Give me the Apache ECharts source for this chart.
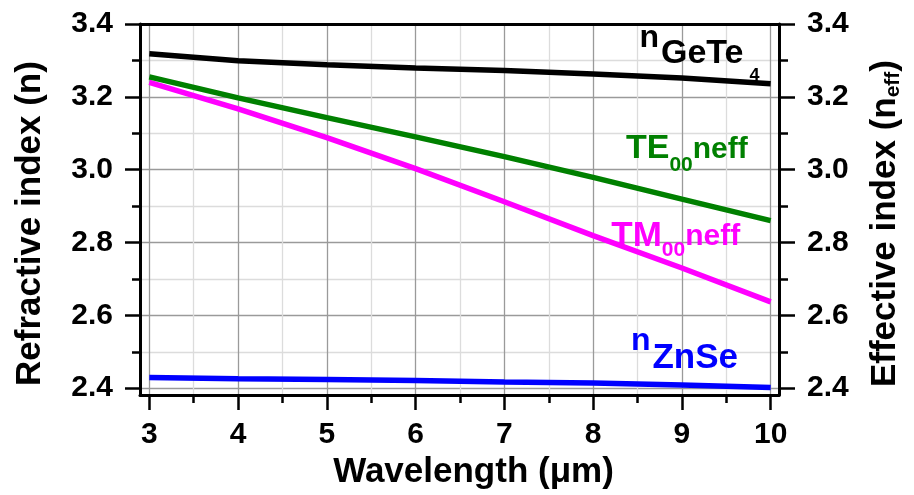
<!DOCTYPE html>
<html>
<head>
<meta charset="utf-8">
<script src="https://cdn.jsdelivr.net/npm/echarts@6/dist/echarts.min.js"></script>
<style>
  html, body { margin: 0; padding: 0; background: #fff; }
  #chart { width: 914px; height: 495px; }
</style>
</head>
<body>
<div id="chart"></div>
<script>
// Wavelength samples (µm)
const wavelength = [3, 4, 5, 6, 7, 8, 9, 10];
// Bulk refractive indices
const nGeTe4 = [3.318, 3.299, 3.288, 3.279, 3.272, 3.263, 3.252, 3.236];
const nZnSe  = [2.429, 2.426, 2.424, 2.421, 2.417, 2.414, 2.409, 2.402];
// Effective indices of the fundamental modes
const te00neff = [3.255, 3.197, 3.143, 3.090, 3.036, 2.979, 2.919, 2.860];
const tm00neff = [3.240, 3.167, 3.088, 3.003, 2.912, 2.819, 2.730, 2.637];

// Axis ticks
const xMajorTicks = [3, 4, 5, 6, 7, 8, 9, 10];
const xMinorTicks = [3.5, 4.5, 5.5, 6.5, 7.5, 8.5, 9.5];
const yMajorTicks = [2.4, 2.6, 2.8, 3.0, 3.2, 3.4];
const yMinorTicks = [2.5, 2.7, 2.9, 3.1, 3.3];

// Curve annotations: [x, y] anchor in data units
const labelGeTe = [8.522, 3.3623];
const labelTE   = [8.370, 3.0585];
const labelTM   = [8.205, 2.8180];
const labelZnSe = [8.426, 2.5290];

const FONT = 'Liberation Sans, Arial, sans-serif';
const X_MIN = 2.895, X_MAX = 10.094;
const Y_MIN = 2.381, Y_MAX = 3.4;

const pairs = ys => wavelength.map((x, i) => [x, ys[i]]);

function tok(size, color, padTop, padLeft) {
  return {
    fontFamily: FONT, fontWeight: 'bold', fontSize: size, color: color,
    padding: [padTop || 0, 0, 0, padLeft || 0]
  };
}

function annotation(coord, text, rich) {
  return {
    symbol: 'circle', symbolSize: 0, silent: true,
    data: [{ coord: coord }],
    label: {
      show: true, position: 'inside', align: 'left', verticalAlign: 'middle',
      formatter: text, rich: rich
    }
  };
}

const axisLineStyle = { color: '#000', width: 3 };
const tickStyle = { color: '#000', width: 2.5 };
const majorGrid = { color: '#9a9a9a', width: 1.3 };
const minorGrid = { color: '#dcdcdc', width: 1.3 };
const tickLabel = { color: '#000', fontFamily: FONT, fontWeight: 'bold', fontSize: 30 };

const chart = echarts.init(document.getElementById('chart'), null, { renderer: 'canvas' });

chart.setOption({
  backgroundColor: '#fff',
  animation: false,
  grid: { left: 140, right: 135, top: 24, bottom: 98, containLabel: false },
  xAxis: [
    {
      type: 'value', min: X_MIN, max: X_MAX, position: 'bottom',
      axisLine: { show: true, lineStyle: axisLineStyle },
      axisTick: { show: true, inside: false, length: 15, lineStyle: tickStyle, customValues: xMajorTicks },
      axisLabel: Object.assign({ show: true, margin: 25, customValues: xMajorTicks, formatter: v => String(Math.round(v)) }, tickLabel),
      splitLine: { show: true, lineStyle: majorGrid },
      name: 'Wavelength (\u03bcm)', nameLocation: 'middle', nameGap: 53,
      nameTextStyle: { color: '#000', fontFamily: FONT, fontWeight: 'bold', fontSize: 35, padding: [0, 0, 0, 28] }
    },
    {
      type: 'value', min: X_MIN, max: X_MAX, position: 'bottom',
      axisLine: { show: false },
      axisTick: { show: true, inside: false, length: 8, lineStyle: tickStyle, customValues: xMinorTicks },
      axisLabel: { show: false },
      splitLine: { show: true, lineStyle: minorGrid }
    },
    {
      type: 'value', min: X_MIN, max: X_MAX, position: 'top',
      axisLine: { show: true, lineStyle: axisLineStyle },
      axisTick: { show: false }, axisLabel: { show: false }, splitLine: { show: false }
    }
  ],
  yAxis: [
    {
      type: 'value', min: Y_MIN, max: Y_MAX, position: 'left',
      axisLine: { show: true, lineStyle: axisLineStyle },
      axisTick: { show: true, inside: false, length: 15, lineStyle: tickStyle, customValues: yMajorTicks },
      axisLabel: Object.assign({ show: true, margin: 27, customValues: yMajorTicks, formatter: v => v.toFixed(1) }, tickLabel),
      splitLine: { show: true, lineStyle: majorGrid },
      name: 'Refractive index (n)', nameLocation: 'middle', nameRotate: 90, nameGap: 92,
      nameTextStyle: { color: '#000', fontFamily: FONT, fontWeight: 'bold', fontSize: 35, padding: [0, 28, 0, 0] }
    },
    {
      type: 'value', min: Y_MIN, max: Y_MAX, position: 'left',
      axisLine: { show: false },
      axisTick: { show: true, inside: false, length: 8, lineStyle: tickStyle, customValues: yMinorTicks },
      axisLabel: { show: false },
      splitLine: { show: true, lineStyle: minorGrid }
    },
    {
      type: 'value', min: Y_MIN, max: Y_MAX, position: 'right',
      axisLine: { show: true, lineStyle: axisLineStyle },
      axisTick: { show: true, inside: false, length: 16, lineStyle: tickStyle, customValues: yMajorTicks },
      axisLabel: Object.assign({ show: true, margin: 28, customValues: yMajorTicks, formatter: v => v.toFixed(1) }, tickLabel),
      splitLine: { show: false },
      name: '{a|Effective index (n}{s|eff}{a|)}', nameLocation: 'middle', nameRotate: 90, nameGap: 88,
      nameTextStyle: {
        color: '#000', fontFamily: FONT, fontWeight: 'bold', fontSize: 35, padding: [0, 28, 0, 0],
        rich: {
          a: tok(35, '#000', 0),
          s: tok(21, '#000', 16)
        }
      }
    },
    {
      type: 'value', min: Y_MIN, max: Y_MAX, position: 'right',
      axisLine: { show: false },
      axisTick: { show: true, inside: false, length: 9, lineStyle: tickStyle, customValues: yMinorTicks },
      axisLabel: { show: false },
      splitLine: { show: false }
    }
  ],
  series: [
    {
      name: 'nGeTe4', type: 'line', xAxisIndex: 0, yAxisIndex: 0,
      data: pairs(nGeTe4), symbol: 'none', lineStyle: { color: '#000000', width: 5.5 },
      markPoint: annotation(labelGeTe, '{n|n}{g|GeTe}{d|4}', {
        n: tok(32, '#000', 0), g: tok(34, '#000', 32, 2), d: tok(18, '#000', 77, 6)
      })
    },
    {
      name: 'TM00neff', type: 'line', xAxisIndex: 0, yAxisIndex: 0,
      data: pairs(tm00neff), symbol: 'none', lineStyle: { color: '#ff00ff', width: 5.5 },
      markPoint: annotation(labelTM, '{m|TM}{s|00}{e|neff}', {
        m: tok(35, '#ff00ff', 0), s: tok(21, '#ff00ff', 29), e: tok(30, '#ff00ff', 2)
      })
    },
    {
      name: 'TE00neff', type: 'line', xAxisIndex: 0, yAxisIndex: 0,
      data: pairs(te00neff), symbol: 'none', lineStyle: { color: '#008000', width: 5.5 },
      markPoint: annotation(labelTE, '{m|TE}{s|00}{e|neff}', {
        m: tok(34, '#008000', 0), s: tok(21, '#008000', 33), e: tok(30, '#008000', 3)
      })
    },
    {
      name: 'nZnSe', type: 'line', xAxisIndex: 0, yAxisIndex: 0,
      data: pairs(nZnSe), symbol: 'none', lineStyle: { color: '#0000ff', width: 5.5 },
      markPoint: annotation(labelZnSe, '{n|n}{z|ZnSe}', {
        n: tok(32, '#0000ff', 0), z: tok(35, '#0000ff', 34, 2)
      })
    }
  ]
});
</script>
</body>
</html>
